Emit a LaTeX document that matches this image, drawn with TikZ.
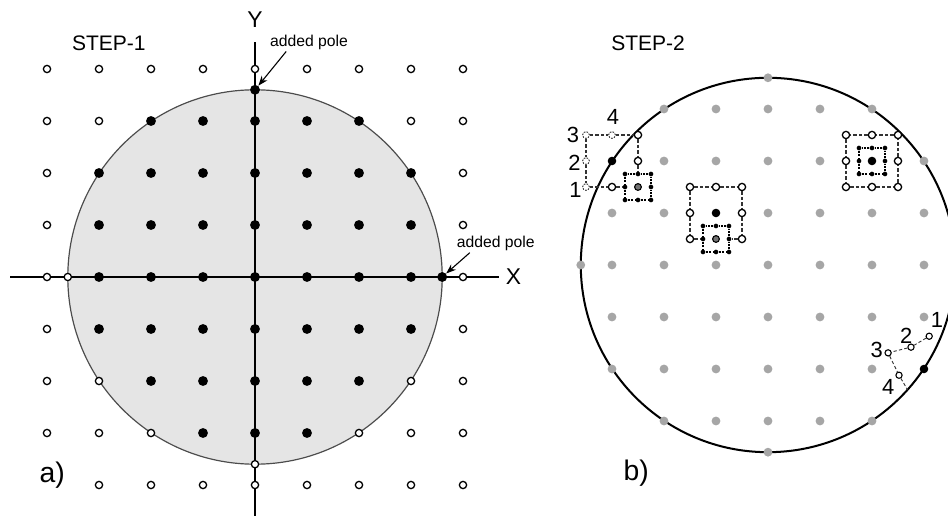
\documentclass[tikz,border=0pt]{standalone}
\usepackage{fontspec}
\setmainfont{Liberation Sans}
\usetikzlibrary{arrows.meta}

\tikzset{
  opn/.style={circle, draw, line width=0.7pt, fill=white, inner sep=0pt, minimum size=0.14cm},
  fil/.style={circle, fill=black, inner sep=0pt, minimum size=0.19cm},
  blk/.style={circle, fill=black, inner sep=0pt, minimum size=0.165cm},
  gry/.style={circle, fill=black!35, inner sep=0pt, minimum size=0.17cm},
  sml/.style={circle, fill=black, inner sep=0pt, minimum size=0.09cm},
  mid/.style={circle, draw, line width=0.6pt, fill=black!55, inner sep=0pt, minimum size=0.13cm},
  gst/.style={circle, draw=black!80, line width=0.5pt, dash pattern=on 0.9pt off 0.7pt, fill=white, inner sep=0pt, minimum size=0.13cm},
  tny/.style={circle, draw, line width=0.6pt, fill=white, inner sep=0pt, minimum size=0.12cm},
  dsh/.style={black!80, line width=0.6pt, dash pattern=on 1.8pt off 1.2pt},
  dtt/.style={black, line width=0.6pt, dash pattern=on 1pt off 1pt},
  arr/.style={line width=0.6pt, -{Stealth[length=1.9mm, width=1.4mm]}},
  lbl/.style={inner sep=0pt, font=\fontsize{12}{13}\selectfont},
  ttl/.style={font=\fontsize{11.5}{13}\selectfont},
  tag/.style={font=\fontsize{15.5}{17}\selectfont},
  axl/.style={font=\fontsize{12.5}{14}\selectfont},
  pol/.style={inner sep=1pt, font=\fontsize{8.6}{10}\selectfont},
}

\begin{document}
\begin{tikzpicture}
    \clip (-4.904,-4.596) rectangle (13.327,5.327);

    % ---- a) step 1 ----
    \draw[fill=black!10, draw=black!70, line width=0.65pt] (0,0) circle (3.6);

    % axes
    \draw[line width=1pt] (-4.71,0) -- (4.69,0) node[right, axl] (xlab) {X};
    \draw[line width=1pt] (0,-4.7) -- (0,4.52) node[above=0.15cm, axl] (ylab) {Y};

    % grid of poles
    \foreach \i in {-4,...,4} {
        \foreach \j in {-4,...,4} {
            \pgfmathtruncatemacro\dd{(\i)*(\i)+(\j)*(\j)}
            \pgfmathtruncatemacro\kind{(\dd<13 || (\dd==13 && \j>0)) ? 1 : ((\i==-4 && \j==-4) ? 2 : 0)}
            \ifcase\kind
                \node[opn] (a\i\j) at (\i,\j) {};
            \or
                \node[fil] (a\i\j) at (\i,\j) {};
            \fi
        }
    }

    % poles on the circle
    \node[fil] (ptop) at (0,3.6) {};
    \node[fil] (pright) at (3.6,0) {};
    \node[opn] (pleft) at (-3.6,0) {};
    \node[opn] (pbot) at (0,-3.6) {};

    \node[pol] (pole1) at (1.04,4.52) {added pole};
    \node[pol] (pole2) at (4.63,0.65) {added pole};
    \draw[arr] ([xshift=-0.44cm]pole1.south) -- (ptop);
    \draw[arr] ([xshift=-0.5cm]pole2.south) -- (pright);

    \node[ttl] (step1) at (-2.81,4.5) {STEP-1};
    \node[tag] (laba) at (-3.90,-3.81) {a)};

    % ---- b) step 2 ----
    \node[ttl] (step2) at (7.56,4.5) {STEP-2};
    \node[tag] (labb) at (7.33,-3.77) {b)};

    \begin{scope}[shift={(9.865,0.231)}]
        \draw[line width=1.1pt] (0,0) circle (3.6);

        % regular poles
        \foreach \i in {-3,...,3} {
            \foreach \j in {-3,...,3} {
                \pgfmathtruncatemacro\dd{(\i)*(\i)+(\j)*(\j)}
                \pgfmathtruncatemacro\ex{(\i==-3 && \j==2) || (\i==2 && \j==2) || (\i==-1 && \j==1) || (\i==3 && \j==-2)}
                \ifnum\ex=0 \ifnum\dd<14
                    \node[gry] (b\i\j) at (\i,\j) {};
                \fi\fi
            }
        }
        \foreach \a in {0,90,180,270}
            \node[gry] (e\a) at (\a:3.6) {};

        % upper left pole, partly outside
        \node[blk] (l0) at (-3,2) {};
        \node[gst] (l3) at (-3.5,2.5) {};
        \node[gst] (l4) at (-3,2.5) {};
        \node[opn] (lne) at (-2.5,2.5) {};
        \node[gst] (l2) at (-3.5,2) {};
        \node[opn] (le) at (-2.5,2) {};
        \node[gst] (l1) at (-3.5,1.5) {};
        \node[opn] (ls) at (-3,1.5) {};
        \node[lbl] (t3) at (-3.75,2.51) {3};
        \node[lbl] (t2) at (-3.72,1.96) {2};
        \node[lbl] (t1) at (-3.70,1.44) {1};
        \node[lbl] (t4) at (-2.98,2.85) {4};
        \begin{scope}[shift={(-2.5,1.5)}]
            \foreach \u/\v [count=\k] in {-.25/-.25, 0/-.25, .25/-.25, .25/0, .25/.25, 0/.25, -.25/.25, -.25/0}
                \node[sml] (li\k) at (\u,\v) {};
            \draw[dtt] (li1) -- (li2) -- (li3) -- (li4) -- (li5) -- (li6) -- (li7) -- (li8) -- (li1);
            \node[mid] (lc) at (0,0) {};
        \end{scope}
        \draw[dsh] (l3) -- (l4) -- (lne) -- (le) -- (li6);
        \draw[dsh] (l3) -- (l2) -- (l1) -- (ls) -- (li8);

        % middle pole
        \node[blk] (m0) at (-1,1) {};
        \node[opn] (m1) at (-1.5,1.5) {};
        \node[opn] (m2) at (-1,1.5) {};
        \node[opn] (m3) at (-0.5,1.5) {};
        \node[opn] (m4) at (-0.5,1) {};
        \node[opn] (m5) at (-0.5,0.5) {};
        \node[opn] (m7) at (-1.5,0.5) {};
        \node[opn] (m8) at (-1.5,1) {};
        \begin{scope}[shift={(-1,0.5)}]
            \foreach \u/\v [count=\k] in {-.25/-.25, 0/-.25, .25/-.25, .25/0, .25/.25, 0/.25, -.25/.25, -.25/0}
                \node[sml] (mi\k) at (\u,\v) {};
            \draw[dtt] (mi1) -- (mi2) -- (mi3) -- (mi4) -- (mi5) -- (mi6) -- (mi7) -- (mi8) -- (mi1);
            \node[mid] (mc) at (0,0) {};
        \end{scope}
        \draw[dsh] (m1) -- (m2) -- (m3) -- (m4) -- (m5) -- (mi4);
        \draw[dsh] (m1) -- (m8) -- (m7) -- (mi8);

        % upper right pole
        \begin{scope}[shift={(2,2)}]
            \foreach \u/\v [count=\k] in {-.5/-.5, 0/-.5, .5/-.5, .5/0, .5/.5, 0/.5, -.5/.5, -.5/0}
                \node[opn] (r\k) at (\u,\v) {};
            \draw[dsh] (r1) -- (r2) -- (r3) -- (r4) -- (r5) -- (r6) -- (r7) -- (r8) -- (r1);
            \foreach \u/\v [count=\k] in {-.25/-.25, 0/-.25, .25/-.25, .25/0, .25/.25, 0/.25, -.25/.25, -.25/0}
                \node[sml] (ri\k) at (\u,\v) {};
            \draw[dtt] (ri1) -- (ri2) -- (ri3) -- (ri4) -- (ri5) -- (ri6) -- (ri7) -- (ri8) -- (ri1);
            \node[blk] (r0) at (0,0) {};
        \end{scope}

        % lower right pole on the rim
        \node[blk] (q0) at (3,-2) {};
        \node[tny] (q1) at (3.1,-1.37) {};
        \node[tny] (q2) at (2.75,-1.58) {};
        \node[tny] (q3) at (2.31,-1.69) {};
        \node[tny] (q4) at (2.52,-2.12) {};
        \coordinate (qe) at (-41.8:3.6);
        \draw[dsh, line width=0.5pt] (q1) -- (q2) -- (q3) -- (q4) -- (qe);
        \node[lbl] (u1) at (3.25,-1.06) {1};
        \node[lbl] (u2) at (2.66,-1.37) {2};
        \node[lbl] (u3) at (2.09,-1.63) {3};
        \node[lbl] (u4) at (2.31,-2.35) {4};
    \end{scope}
\end{tikzpicture}
\end{document}
